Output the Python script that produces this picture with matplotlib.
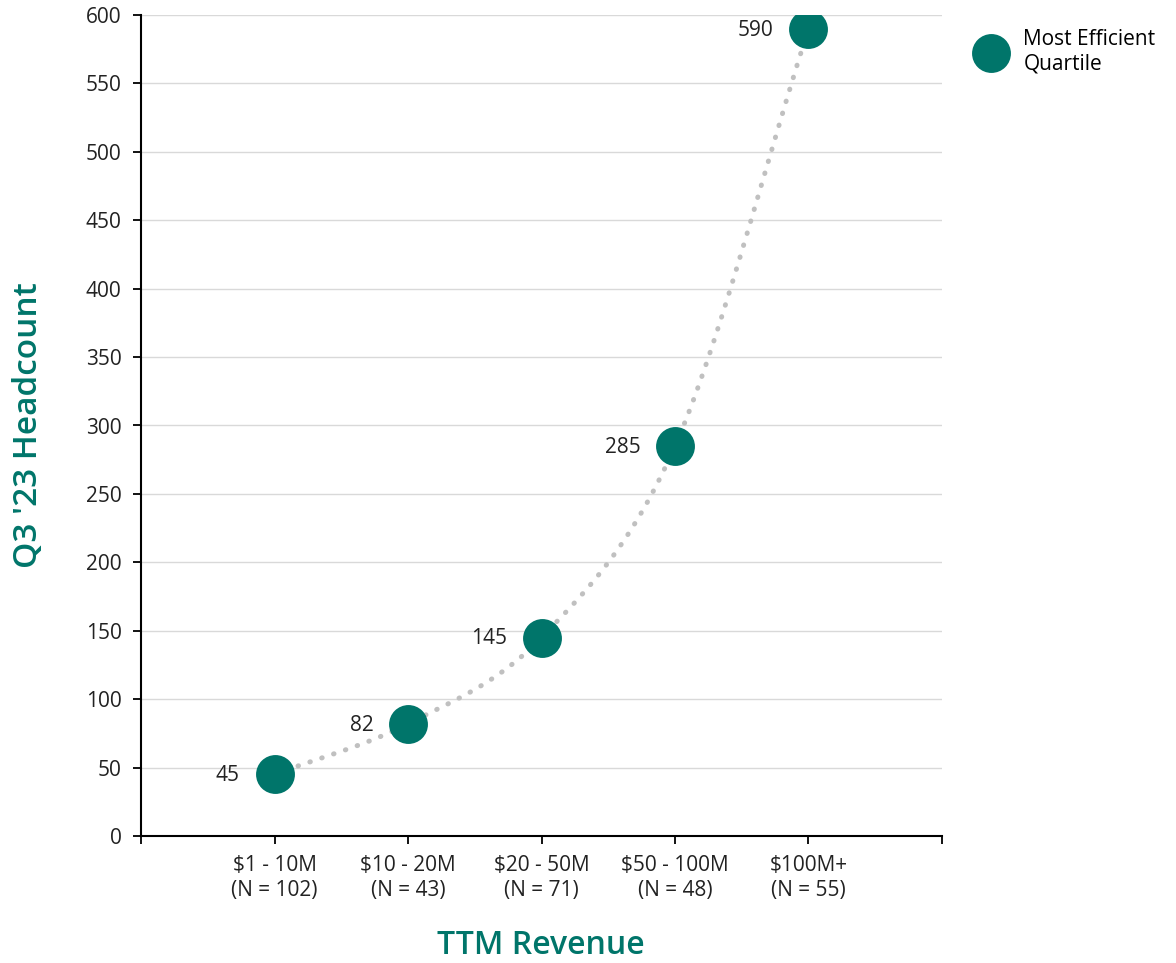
import numpy as np
import matplotlib
matplotlib.use("Agg")
import matplotlib.pyplot as plt
from matplotlib.lines import Line2D

plt.rcParams['font.family'] = ['Open Sans', 'DejaVu Sans']

categories = ["$1 - 10M\n(N = 102)", "$10 - 20M\n(N = 43)", "$20 - 50M\n(N = 71)",
              "$50 - 100M\n(N = 48)", "$100M+\n(N = 55)"]
headcount = [45, 82, 145, 285, 590]
series_name = "Most Efficient\nQuartile"

TEAL = "#00756A"
GRID = "#d9d9d9"
TEXT = "#222222"


def catmull_rom(px, py, n=60):
    """Smooth curve passing through the points (uniform Catmull-Rom spline)."""
    P = np.column_stack([np.asarray(px, float), np.asarray(py, float)])
    P = np.vstack([2 * P[0] - P[1], P, 2 * P[-1] - P[-2]])
    out = []
    t = np.linspace(0, 1, n)[:, None]
    for i in range(1, len(P) - 2):
        p0, p1, p2, p3 = P[i - 1], P[i], P[i + 1], P[i + 2]
        seg = 0.5 * ((2 * p1) + (-p0 + p2) * t + (2 * p0 - 5 * p1 + 4 * p2 - p3) * t ** 2
                     + (-p0 + 3 * p1 - 3 * p2 + p3) * t ** 3)
        out.append(seg if i == 1 else seg[1:])
    out = np.vstack(out)
    return out[:, 0], out[:, 1]


fig = plt.figure(figsize=(11.76, 9.63), dpi=100)
ax = fig.add_axes([141 / 1176, 1 - 836 / 963, (942 - 141) / 1176, (836 - 15) / 963])

x = np.arange(len(categories))
y = np.array(headcount, dtype=float)

xs, ys = catmull_rom(x, y)
ax.plot(xs, ys, color="#c0c0c0", lw=3.6, linestyle=(0, (0.1, 2.4)),
        dash_capstyle="round", zorder=2)

ax.plot(x, y, "o", color=TEAL, markersize=28, markeredgewidth=0, zorder=3)

for xi, yi in zip(x, y):
    ax.annotate(f"{int(yi)}", (xi, yi), xytext=(-25, -1), textcoords="offset points",
                ha="right", va="center", fontsize=15, color=TEXT, zorder=4)

ax.set_xlim(-1, 5)
ax.set_ylim(0, 600)
ax.set_yticks(np.arange(0, 601, 50))
ax.set_xticks(np.arange(-1, 6))
ax.set_xticklabels([""] + categories + [""], linespacing=1.2)

ax.grid(axis="y", color=GRID, lw=1)
ax.set_axisbelow(True)
for s in ["top", "right"]:
    ax.spines[s].set_visible(False)
for s in ["left", "bottom"]:
    ax.spines[s].set_color("black")
    ax.spines[s].set_linewidth(1.5)

ax.tick_params(axis="both", labelsize=15, colors="black", labelcolor=TEXT,
               length=6, width=1.3)
ax.tick_params(axis="x", pad=8)
ax.tick_params(axis="y", pad=8)

ax.set_ylabel("Q3 '23 Headcount", fontsize=24, color=TEAL, fontweight="semibold")
ax.yaxis.set_label_coords((45 - 141) / (942 - 141), 0.5)
fig.text(541 / 1176, 1 - 945 / 963, "TTM Revenue", fontsize=23, color=TEAL,
         fontweight="semibold", ha="center", va="center")

handle = Line2D([], [], marker="o", color=TEAL, linestyle="none", markersize=28,
                markeredgewidth=0)
fig.legend([handle], [series_name], loc="upper left", bbox_to_anchor=(964 / 1176, 1 - 19 / 963),
           frameon=False, fontsize=15, handletextpad=0.75, borderpad=0, labelspacing=0,
           handlelength=1.6)

fig.savefig("out.png", dpi=100)
